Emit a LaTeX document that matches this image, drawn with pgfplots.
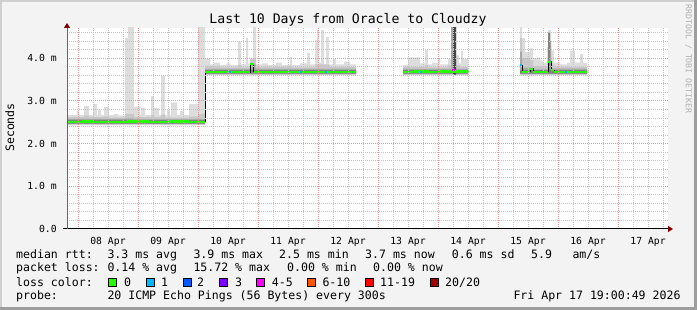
\documentclass[border=0pt]{standalone}
\usepackage{pgfplots}
\pgfplotsset{compat=1.18}
\usetikzlibrary{arrows.meta}
\usepackage{fontspec}
\setmainfont{DejaVu Sans Mono}
\setmonofont{DejaVu Sans Mono}
\definecolor{canvasbg}{RGB}{243,243,243}
\definecolor{shadeA}{RGB}{207,207,207}
\definecolor{shadeB}{RGB}{158,158,158}
\definecolor{mgrid}{RGB}{238,150,150}
\definecolor{mingrid}{RGB}{195,195,195}
\definecolor{arrowred}{RGB}{127,0,0}
\definecolor{sA}{RGB}{221,221,221}
\definecolor{sB}{RGB}{200,200,200}
\definecolor{sC}{RGB}{168,168,168}
\definecolor{sD}{RGB}{130,130,130}
\definecolor{sE}{RGB}{70,70,70}
\definecolor{lossA}{RGB}{38,255,0}
\definecolor{lossB}{RGB}{0,184,255}
\definecolor{lossC}{RGB}{0,89,255}
\definecolor{lossD}{RGB}{126,0,255}
\definecolor{lossE}{RGB}{255,0,255}
\definecolor{lossF}{RGB}{255,85,0}
\definecolor{lossG}{RGB}{255,0,0}
\definecolor{lossH}{RGB}{160,0,0}
\newcommand{\lf}{\fontsize{11.6}{13}\selectfont}
\newcommand{\tf}{\fontsize{13.2}{15}\selectfont}
\newcommand{\tkf}{\fontsize{9.8}{11}\selectfont}
\newcommand{\rf}{\fontsize{8.2}{9}\selectfont}
\begin{document}
\begin{tikzpicture}
% canvas with 3D frame
\fill[shadeB] (0bp,0bp) rectangle (697bp,310bp);
\fill[shadeA] (0bp,3bp) rectangle (694bp,310bp);
\fill[canvasbg] (2bp,3bp) rectangle (694bp,308bp);
\begin{axis}[
  at={(67bp,81bp)}, anchor=south west,
  scale only axis, width=601bp, height=201bp,
  xmin=-4.4, xmax=236, ymin=0, ymax=4.71,
  axis lines=left,
  axis on top,
  axis background/.style={fill=white},
  x axis line style={black, line width=1bp, shorten <=-4bp, shorten >=-5bp, -{Triangle[length=5bp,width=6bp,color=arrowred]}},
  y axis line style={black!60, line width=1bp, shorten >=-5bp, -{Triangle[length=5bp,width=6bp,color=arrowred]}},
  tick style={draw=none},
  xtick={0,24,...,240},
  xticklabels={08 Apr,09 Apr,10 Apr,11 Apr,12 Apr,13 Apr,14 Apr,15 Apr,16 Apr,17 Apr,18 Apr},
  minor x tick num=3,
  ytick={0,1,2,3,4,5},
  yticklabels={0.0,1.0 m,2.0 m,3.0 m,4.0 m,5.0 m},
  minor y tick num=4,
  grid=both,
  major grid style={mgrid, line width=1bp, dash pattern=on 1bp off 1bp},
  minor grid style={mingrid, line width=1bp, dash pattern=on 1bp off 1bp},
  xticklabel style={font=\tkf, anchor=base, xshift=30bp, yshift=-13bp, inner sep=0pt},
  yticklabel style={font=\tkf, anchor=east, inner sep=0pt, xshift=-8bp},
  unbounded coords=jump,
]
% ---- smoke layer A (outer envelope) ----
\addplot[const plot, draw=none, fill=sA] coordinates {(-4.4,2.43) (-4.4,2.67) (-0.4,2.76) (0.4,2.67) (2.4,2.88) (4.4,2.67) (6.0,2.93) (7.6,2.67) (8.0,2.80) (9.2,2.67) (10.4,2.86) (12.4,2.67) (14.4,2.70) (16.0,2.66) (18.8,4.47) (20.0,4.8) (22.4,2.87) (24.8,2.67) (25.2,2.84) (26.8,2.67) (29.2,3.12) (30.4,2.84) (32.4,2.67) (33.2,3.60) (34.8,2.67) (35.6,2.78) (36.8,2.67) (37.2,2.97) (39.6,2.67) (40.8,2.76) (42.4,2.67) (44.4,2.93) (48.0,4.8) (50.8,4.8) (50.8,2.43)} -- cycle;
\addplot[const plot, draw=none, fill=sA] coordinates {(50.8,3.60) (50.8,3.98) (52.8,3.86) (54.4,3.90) (56.8,3.84) (59.2,3.88) (60.8,3.84) (64.0,4.39) (65.2,3.86) (67.2,4.48) (68.0,3.86) (68.8,3.98) (70.0,4.8) (71.2,3.86) (73.6,3.88) (76.0,3.84) (79.2,3.90) (81.6,3.84) (84.8,4.04) (85.6,3.84) (88.8,3.88) (91.6,4.12) (92.8,3.86) (94.8,4.43) (95.6,4.66) (96.4,3.90) (97.2,4.66) (98.4,3.86) (99.2,4.50) (100.4,3.86) (102.0,3.98) (103.2,3.86) (106.4,3.92) (108.8,3.86) (111.2,3.86) (111.2,3.60)} -- cycle;
\addplot[const plot, draw=none, fill=sA] coordinates {(130.0,3.60) (130.0,3.84) (132.0,4.02) (136.8,3.88) (138.8,4.20) (140.0,3.86) (141.6,3.90) (144.0,3.98) (144.8,3.86) (148.0,3.98) (149.2,4.8) (151.2,4.07) (152.4,3.88) (153.2,4.17) (154.0,3.98) (156.0,3.98) (156.0,3.60)} -- cycle;
\addplot[const plot, draw=none, fill=sA] coordinates {(176.8,3.60) (176.8,4.8) (177.6,4.47) (178.8,4.15) (180.8,4.23) (182.0,4.00) (183.6,4.02) (184.8,3.95) (186.0,3.90) (187.6,4.27) (188.0,4.66) (189.2,4.18) (190.4,3.90) (192.8,3.86) (195.6,3.90) (196.8,4.18) (198.8,3.90) (200.8,4.10) (202.0,3.90) (203.6,3.90) (203.6,3.60)} -- cycle;
% ---- smoke layer B ----
\addplot[const plot, draw=none, fill=sB] coordinates {(-4.4,2.45) (-4.4,2.62) (2.4,2.66) (4.4,2.62) (10.4,2.64) (12.4,2.61) (18.8,2.70) (22.4,2.62) (29.2,2.66) (30.4,2.62) (33.2,2.68) (34.8,2.61) (44.4,2.64) (48.0,2.70) (50.8,2.70) (50.8,2.45)} -- cycle;
\addplot[const plot, draw=none, fill=sB] coordinates {(50.8,3.62) (50.8,3.82) (56.8,3.79) (64.0,3.84) (65.2,3.79) (68.8,3.98) (71.2,3.80) (84.8,3.82) (85.6,3.79) (94.8,3.86) (100.4,3.80) (111.2,3.80) (111.2,3.62)} -- cycle;
\addplot[const plot, draw=none, fill=sB] coordinates {(130.0,3.62) (130.0,3.80) (138.8,3.84) (140.0,3.79) (148.0,3.84) (149.2,4.8) (151.2,3.84) (152.4,3.80) (156.0,3.80) (156.0,3.62)} -- cycle;
\addplot[const plot, draw=none, fill=sB] coordinates {(176.8,3.62) (176.8,4.47) (177.6,4.0) (180.8,3.95) (182.0,3.82) (187.6,3.95) (188.0,4.3) (189.2,3.85) (190.4,3.80) (203.6,3.80) (203.6,3.62)} -- cycle;
% ---- smoke layer C ----
\addplot[const plot, draw=none, fill=sC] coordinates {(-4.4,2.46) (-4.4,2.58) (18.8,2.60) (22.4,2.57) (50.8,2.57) (50.8,2.46)} -- cycle;
\addplot[const plot, draw=none, fill=sC] coordinates {(50.8,3.63) (50.8,3.75) (68.8,3.86) (71.2,3.75) (111.2,3.75) (111.2,3.63)} -- cycle;
\addplot[const plot, draw=none, fill=sC] coordinates {(130.0,3.63) (130.0,3.75) (149.2,4.8) (150.0,3.75) (156.0,3.75) (156.0,3.63)} -- cycle;
\addplot[const plot, draw=none, fill=sC] coordinates {(176.8,3.63) (176.8,4.15) (177.6,3.78) (182.0,3.74) (188.0,4.40) (189.2,3.76) (203.6,3.76) (203.6,3.63)} -- cycle;
% ---- smoke layer D ----
\addplot[const plot, draw=none, fill=sD] coordinates {(-4.4,2.47) (-4.4,2.555) (50.8,2.555) (50.8,2.47)} -- cycle;
\addplot[const plot, draw=none, fill=sD] coordinates {(50.8,3.64) (50.8,3.72) (111.2,3.72) (111.2,3.64)} -- cycle;
\addplot[const plot, draw=none, fill=sD] coordinates {(130.0,3.64) (130.0,3.72) (156.0,3.72) (156.0,3.64)} -- cycle;
\addplot[const plot, draw=none, fill=sD] coordinates {(176.8,3.64) (176.8,3.72) (188.0,4.60) (188.8,3.72) (203.6,3.72) (203.6,3.64)} -- cycle;
% ---- dark spike ----
\addplot[const plot, draw=none, fill=sE] coordinates {(150.0,3.62) (150.0,4.8) (151.2,4.8) (151.2,3.62)} -- cycle;
% ---- median (black connector) ----
\addplot[const plot, black, line width=1bp] coordinates {(-4.4,2.51) (50.8,3.67) (68.8,3.86) (70.2,3.68) (111.2,3.68) (111.2,nan) (130.0,3.68) (156.0,3.68) (156.0,nan) (176.8,3.84) (177.6,3.68) (180.8,3.75) (182.0,3.68) (188.0,3.92) (189.2,3.72) (190.4,3.68) (203.6,3.68)};
% ---- median, 0 loss ----
\addplot[const plot, lossA, line width=2.2bp] coordinates {(-4.4,2.50) (2,2.52) (6,2.50) (12,2.51) (20,2.52) (28,2.50) (36,2.52) (44,2.51) (50.8,2.51) (50.8,nan) (50.8,3.67) (68.8,3.67) (68.8,nan) (68.8,3.86) (70.2,3.86) (70.2,nan) (70.2,3.68) (111.2,3.68) (111.2,nan) (130,3.68) (135,3.69) (140,3.67) (145,3.69) (156,3.68) (156,nan) (177.6,3.68) (180.8,3.68) (180.8,nan) (180.8,3.75) (182,3.75) (182,nan) (182,3.68) (188,3.68) (188,nan) (188,3.92) (189.2,3.92) (189.2,nan) (189.2,3.72) (190.4,3.72) (190.4,nan) (190.4,3.68) (203.6,3.68)};
% ---- median, 1 loss ----
\addplot[const plot, lossB, line width=2.2bp] coordinates {(60.4,3.67) (61.2,3.67) (61.2,nan) (88.8,3.67) (89.6,3.67) (89.6,nan) (98.8,3.67) (99.6,3.67) (99.6,nan) (136.8,3.68) (137.6,3.68) (137.6,nan) (176.8,3.84) (177.6,3.84) (177.6,nan) (194.8,3.68) (195.6,3.68)};
% ---- median, 4-5 loss ----
\addplot[const plot, lossE, line width=2.2bp] coordinates {(149.6,3.72) (150.6,3.72)};
\end{axis}
% title and labels
\node[anchor=base, inner sep=0pt, font=\tf] at (348bp,286bp) {Last 10 Days from Oracle to Cloudzy};
\node[anchor=base, inner sep=0pt, font=\lf, rotate=90] at (14bp,182.5bp) {Seconds};
\node[inner sep=0pt, font=\rf, rotate=-90, text={rgb,255:red,176;green,176;blue,176}] at (688.5bp,251bp) {RRDTOOL / TOBI OETIKER};
% legend rows
\begin{scope}[every node/.style={anchor=base west, inner sep=0pt, font=\lf}]
\node at (16bp,51.7bp) {median rtt:};
\node at (107.3bp,51.7bp) {3.3 ms avg};
\node at (193.3bp,51.7bp) {3.9 ms max};
\node at (279bp,51.7bp) {2.5 ms min};
\node at (365bp,51.7bp) {3.7 ms now};
\node at (451.7bp,51.7bp) {0.6 ms sd};
\node at (531bp,51.7bp) {5.9};
\node at (572.3bp,51.7bp) {am/s};
\node at (16bp,38.3bp) {packet loss:};
\node at (107.3bp,38.3bp) {0.14 \% avg};
\node at (193.3bp,38.3bp) {15.72 \% max};
\node at (287bp,38.3bp) {0.00 \% min};
\node at (373bp,38.3bp) {0.00 \% now};
\node at (16bp,24bp) {loss color:};
\node at (124bp,24bp) {0};
\node at (161bp,24bp) {1};
\node at (197bp,24bp) {2};
\node at (235bp,24bp) {3};
\node at (271.7bp,24bp) {4-5};
\node at (322.3bp,24bp) {6-10};
\node at (380bp,24bp) {11-19};
\node at (445bp,24bp) {20/20};
\node at (16bp,10.7bp) {probe:};
\node at (107.3bp,10.7bp) {20 ICMP Echo Pings (56 Bytes) every 300s};
\node at (513.3bp,10.7bp) {Fri Apr 17 19:00:49 2026};
\end{scope}
\begin{scope}[black, line width=0.8bp]
\draw[fill=lossA] (108.5bp,23.8bp) rectangle (116.5bp,31.8bp);
\draw[fill=lossB] (145.9bp,23.8bp) rectangle (153.9bp,31.8bp);
\draw[fill=lossC] (182.9bp,23.8bp) rectangle (190.9bp,31.8bp);
\draw[fill=lossD] (219.2bp,23.8bp) rectangle (227.2bp,31.8bp);
\draw[fill=lossE] (256.2bp,23.8bp) rectangle (264.2bp,31.8bp);
\draw[fill=lossF] (306.9bp,23.8bp) rectangle (314.9bp,31.8bp);
\draw[fill=lossG] (365.2bp,23.8bp) rectangle (373.2bp,31.8bp);
\draw[fill=lossH] (430.2bp,23.8bp) rectangle (438.2bp,31.8bp);
\end{scope}
\end{tikzpicture}
\end{document}
